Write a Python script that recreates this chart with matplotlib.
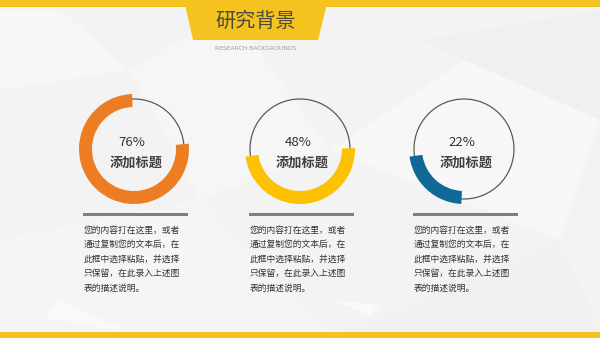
import matplotlib.pyplot as plt
from matplotlib.patches import Wedge, Circle, Polygon, Rectangle

plt.rcParams['font.family'] = ['Noto Sans CJK SC', 'DejaVu Sans']

W, H = 600, 338

# chart data
percents = [76, 48, 22]
arc_colors = ['#EC7D22', '#FBC102', '#0F6896']
arc_starts = [92, 188, 188]          # degrees, where each arc begins
centers_x = [134, 300, 464]
item_title = '添加标题'
body_lines = ['您的内容打在这里，或者',
              '通过复制您的文本后，在',
              '此框中选择粘贴，并选择',
              '只保留，在此录入上述图',
              '表的描述说明。']
title = '研究背景'
subtitle = 'RESEARCH BACKGROUNDS'


def Y(y):
    # pixel row (from top) -> data y
    return H - y


fig = plt.figure(figsize=(6, 3.38), dpi=100)
ax = fig.add_axes([0, 0, 1, 1])
ax.set_xlim(0, W)
ax.set_ylim(0, H)
ax.axis('off')

# background with faint low-poly shapes
ax.add_patch(Rectangle((0, 0), W, H, color='#f3f3f3', zorder=0))
polys = [
    ([(0, 10), (60, 10), (130, 70), (0, 90)], '#f7f7f7'),
    ([(130, 70), (230, 10), (330, 150), (200, 200)], '#f6f6f6'),
    ([(330, 150), (480, 50), (600, 120), (560, 240)], '#f7f7f7'),
    ([(420, 40), (600, 10), (600, 120)], '#f0f0f0'),
    ([(0, 240), (200, 200), (330, 338), (0, 338)], '#f5f5f5'),
    ([(330, 338), (560, 240), (600, 330), (600, 338)], '#f1f1f1'),
    ([(45, 318), (60, 300), (130, 332)], '#f9f9f9'),
    ([(330, 300), (380, 305), (370, 315)], '#fafafa'),
]
for pts, c in polys:
    ax.add_patch(Polygon([(x, Y(y)) for x, y in pts], closed=True,
                         color=c, lw=0, zorder=0.5))

# top and bottom yellow bands
ax.add_patch(Rectangle((0, Y(6.5)), W, 6.5, color='#F4C320', lw=0, zorder=1))
ax.add_patch(Rectangle((0, 0), W, 6.5, color='#F4C320', lw=0, zorder=1))
ax.add_patch(Polygon([(184, Y(0)), (328, Y(0)), (318, Y(40)), (193, Y(40))],
                     closed=True, color='#F4C320', lw=0, zorder=1))
ax.text(256, Y(21), title, ha='center', va='center', fontsize=14.5,
        color='#4d4b3a', zorder=3)
ax.text(256, Y(48), subtitle, ha='center', va='center', fontsize=4.3,
        color='#9a9a9a', family='DejaVu Sans', zorder=3)

# ring charts
cy = 149
for pct, col, start, cx in zip(percents, arc_colors, arc_starts, centers_x):
    ax.add_patch(Circle((cx, Y(cy)), 50, fill=False, ec='#5a5a5a', lw=0.9, zorder=2))
    ax.add_patch(Wedge((cx, Y(cy)), 55, start, start + pct * 3.6, width=13,
                       color=col, lw=0, zorder=3))
    ax.text(cx - 2, Y(cy - 7), f'{pct}%', ha='center', va='center',
            fontsize=9.5, color='#333333', zorder=4)
    ax.text(cx + 2, Y(cy + 14), item_title, ha='center', va='center',
            fontsize=9.5, fontweight='bold', color='#404040', zorder=4)

    # gray separator and description
    ax.add_patch(Rectangle((cx - 51, Y(215.5)), 105, 3, color='#7f7f7f', lw=0, zorder=2))
    for i, line in enumerate(body_lines):
        ax.text(cx - 50, Y(230 + i * 14.6), line, ha='left', va='center',
                fontsize=6.3, color='#333333', zorder=4)

fig.savefig('out.png', dpi=100)
